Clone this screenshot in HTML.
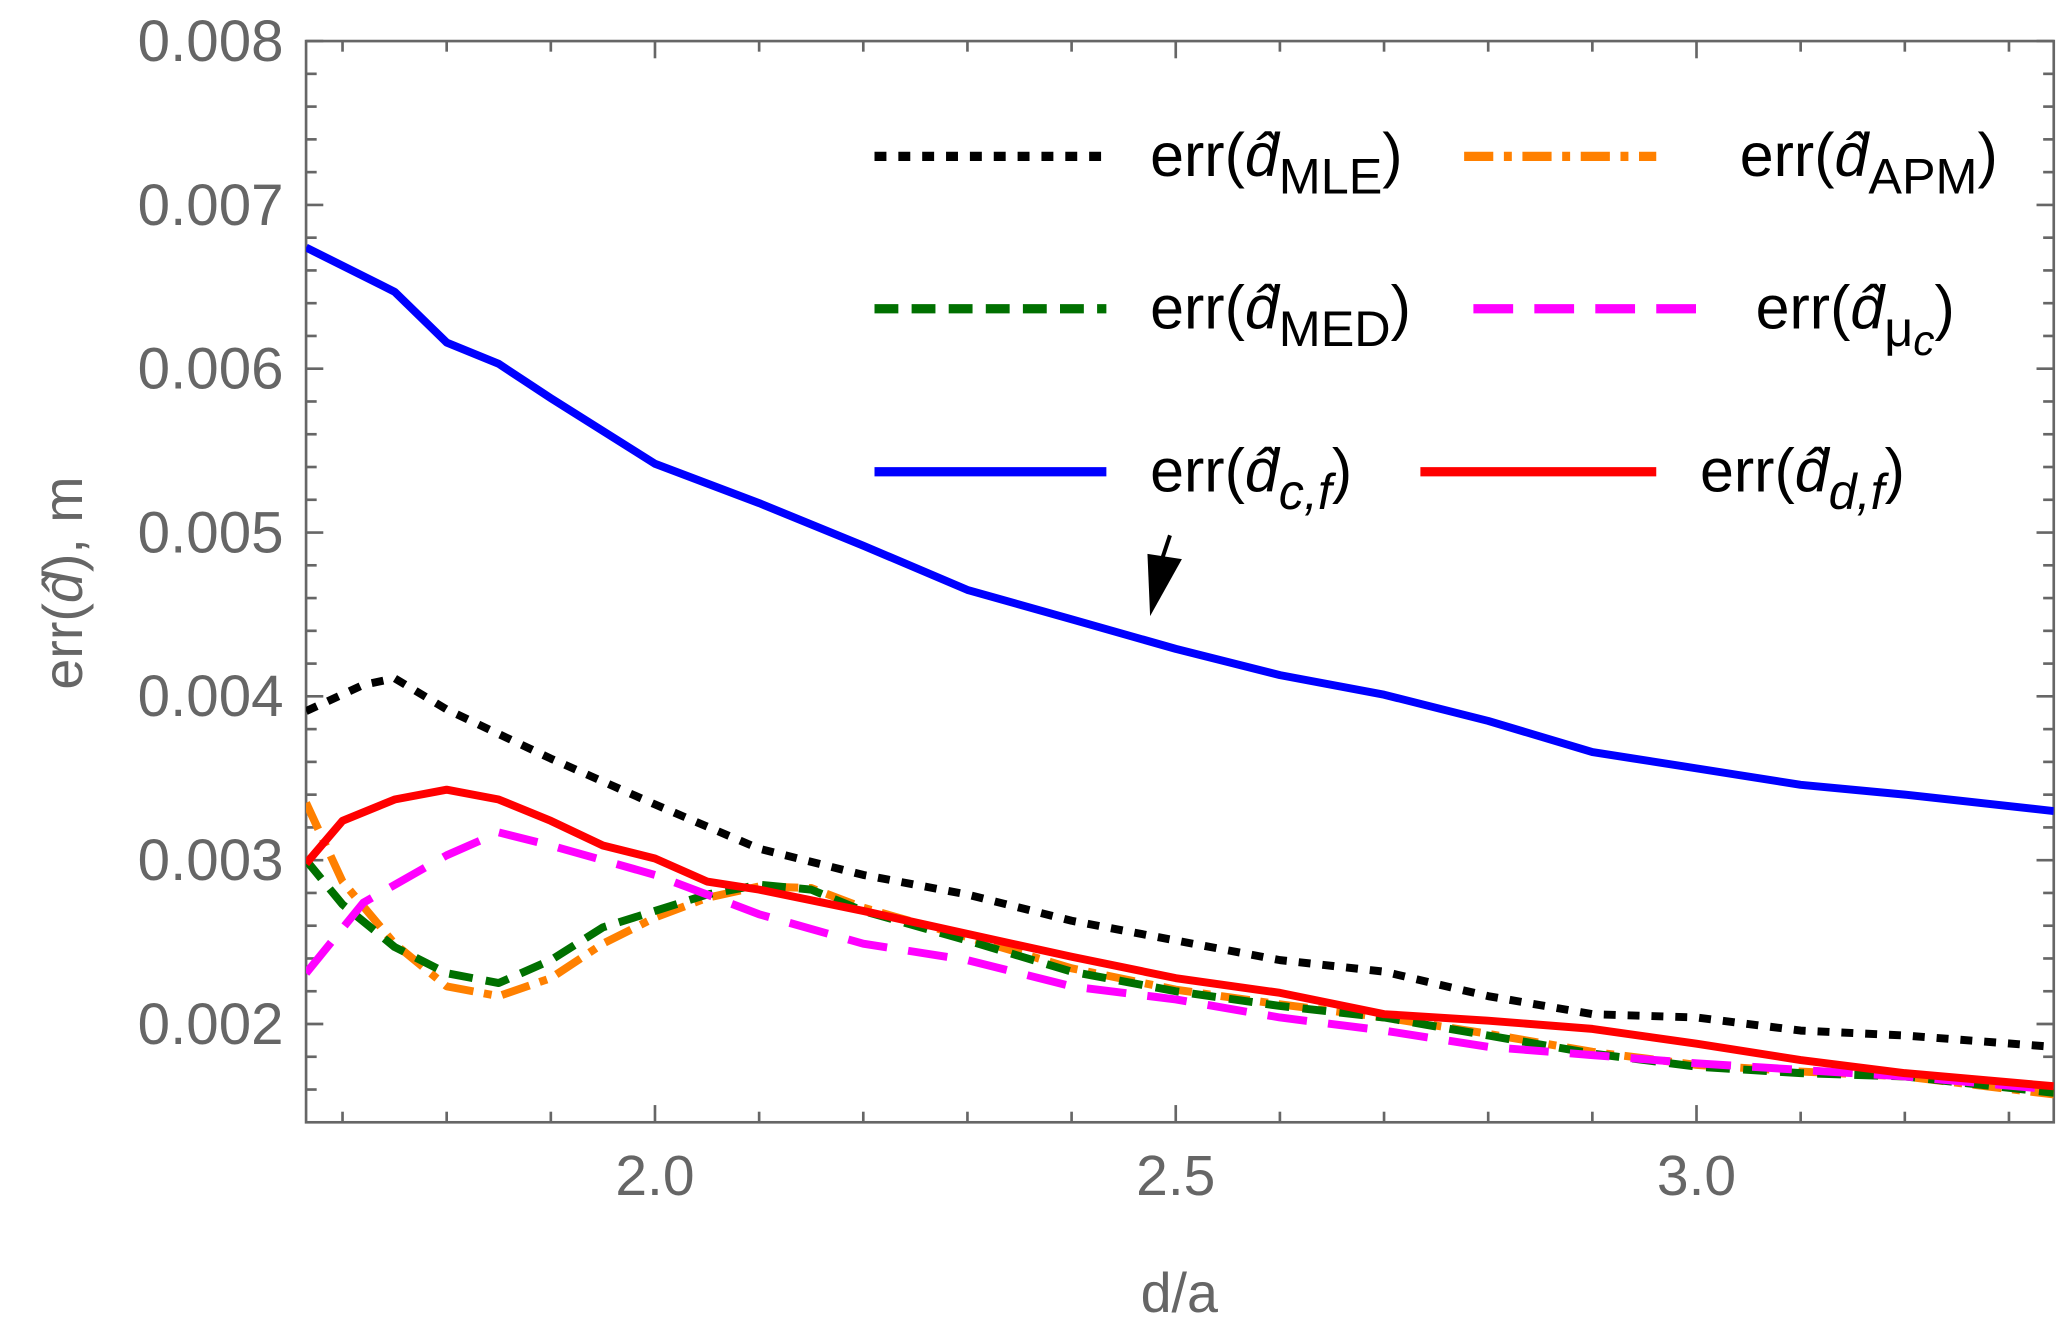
<!DOCTYPE html>
<html><head><meta charset="utf-8"><style>
html,body{margin:0;padding:0;background:#fff;}
svg{display:block;}
text{font-family:"Liberation Sans",sans-serif;}
</style></head><body>
<svg id="chart" width="2067" height="1329" viewBox="0 0 1560 1003" preserveAspectRatio="none" xmlns="http://www.w3.org/2000/svg">
<g id="axes"></g>
<g id="series"></g>
<g id="legend"></g>
<text transform="translate(62,440) rotate(-90)" text-anchor="middle" font-size="42" fill="#666">err(<tspan font-style="italic">d̂</tspan>), m</text>
<text x="890" y="990" text-anchor="middle" font-size="42" fill="#666">d/a</text>
<g>
<line x1="883" y1="404" x2="876" y2="425" stroke="#000" stroke-width="3"/>
<polygon points="868,465 866,418 892,422" fill="#000"/>
</g>
</svg>
<script>
const xTicks=[2.0,2.5,3.0];
const xTickLabels=["2.0","2.5","3.0"];
const yTicks=[0.002,0.003,0.004,0.005,0.006,0.007,0.008];
const yTickLabels=["0.002","0.003","0.004","0.005","0.006","0.007","0.008"];
const xBlue=[1.665,1.75,1.8,1.85,1.9,2.0,2.1,2.2,2.3,2.4,2.5,2.6,2.7,2.8,2.9,3.0,3.1,3.2,3.343];
const yBlue=[0.00674,0.00647,0.00616,0.00603,0.00582,0.00542,0.00518,0.00492,0.00465,0.00447,0.00429,0.00413,0.00401,0.00385,0.00366,0.00356,0.00346,0.0034,0.0033];
const xBlack=[1.665,1.72,1.75,1.8,1.9,2.0,2.1,2.2,2.3,2.4,2.5,2.6,2.7,2.8,2.9,3.0,3.1,3.2,3.343];
const yBlack=[0.00391,0.00407,0.00411,0.00392,0.00362,0.00334,0.00307,0.00291,0.00279,0.00263,0.00251,0.00239,0.00232,0.00217,0.00206,0.00204,0.00196,0.00193,0.00186];
const xRed=[1.665,1.7,1.75,1.8,1.85,1.9,1.95,2.0,2.05,2.1,2.2,2.3,2.4,2.5,2.6,2.7,2.8,2.9,3.0,3.1,3.2,3.343];
const yRed=[0.00298,0.00324,0.00337,0.00343,0.00337,0.00324,0.00309,0.00301,0.00287,0.00282,0.00269,0.00255,0.00241,0.00228,0.00219,0.00206,0.00202,0.00197,0.00188,0.00178,0.0017,0.00162];
const xMag=[1.665,1.72,1.8,1.85,1.9,2.0,2.05,2.1,2.2,2.3,2.4,2.5,2.6,2.7,2.8,2.9,3.0,3.2,3.343];
const yMag=[0.00231,0.00274,0.00303,0.00317,0.00309,0.00291,0.00279,0.00267,0.00249,0.00239,0.00223,0.00215,0.00204,0.00196,0.00186,0.00181,0.00176,0.00168,0.0016];
const xGreen=[1.665,1.7,1.75,1.8,1.85,1.9,1.95,2.0,2.05,2.1,2.15,2.2,2.3,2.4,2.5,2.6,2.7,2.8,2.9,3.0,3.1,3.2,3.343];
const yGreen=[0.003,0.00273,0.00247,0.00231,0.00225,0.00239,0.00259,0.00269,0.00279,0.00285,0.00282,0.00269,0.00251,0.00232,0.0022,0.00211,0.00204,0.00193,0.00182,0.00174,0.0017,0.00168,0.00158];
const xOrange=[1.665,1.7,1.75,1.8,1.85,1.9,1.95,2.0,2.05,2.1,2.15,2.2,2.3,2.4,2.5,2.6,2.7,2.8,2.9,3.0,3.1,3.2,3.343];
const yOrange=[0.00335,0.00287,0.00249,0.00223,0.00217,0.00228,0.00249,0.00265,0.00277,0.00284,0.00283,0.00271,0.00253,0.00234,0.00221,0.00212,0.00204,0.00194,0.00183,0.00175,0.00171,0.00168,0.00157];

const L=231,R=1550,T=31,B=847,XMIN=1.665,XMAX=3.343,YMIN=0.0014,YMAX=0.008;
const NS="http://www.w3.org/2000/svg";
function sx(v){return L+(v-XMIN)/(XMAX-XMIN)*(R-L);}
function sy(v){return B-(v-YMIN)/(YMAX-YMIN)*(B-T);}
function mk(tag,attrs,parent){const e=document.createElementNS(NS,tag);for(const k in attrs)e.setAttribute(k,attrs[k]);parent.appendChild(e);return e;}
const axes=document.getElementById('axes');
const frame=mk('rect',{x:L,y:T,width:R-L,height:B-T,fill:'none',stroke:'#666','stroke-width':2},axes);


for(let i=17;i<=33;i++){const v=i/10;const px=sx(v);if(px<L||px>R)continue;const major=(i%5===0);const len=major?13:8;
 const t1=mk('line',{x1:px,y1:B,x2:px,y2:B-len,stroke:'#666','stroke-width':2},axes);
 
 
 const t2=mk('line',{x1:px,y1:T,x2:px,y2:T+len,stroke:'#666','stroke-width':2},axes);
 
 }
for(let i=15;i<=80;i+=1){if(i%2!==0)continue;const v=i/10000;const py=sy(v);if(py<T-1||py>B)continue;const major=(i%10===0);const len=major?13:8;
 const t1=mk('line',{x1:L,y1:py,x2:L+len,y2:py,stroke:'#666','stroke-width':2},axes);
 
 
 const t2=mk('line',{x1:R,y1:py,x2:R-len,y2:py,stroke:'#666','stroke-width':2},axes);
 
 }
xTicks.forEach((v,i)=>{const t=mk('text',{x:sx(v),y:902,'text-anchor':'middle','font-size':43,fill:'#666'},axes);t.textContent=xTickLabels[i];
 
 });
yTicks.forEach((v,i)=>{const t=mk('text',{x:214,y:sy(v)+15,'text-anchor':'end','font-size':44,fill:'#666'},axes);t.textContent=yTickLabels[i];
 
 });
const ser=document.getElementById('series');
const clip=mk('clipPath',{id:'pc'},ser);mk('rect',{x:L,y:T,width:R-L,height:B-T},clip);
function line(xs,ys,color,dash,name){const d=xs.map((x,i)=>(i?'L':'M')+sx(x).toFixed(1)+','+sy(ys[i]).toFixed(1)).join(' ');
 const p=mk('path',{d:d,fill:'none',stroke:color,'stroke-width':6,'stroke-dasharray':dash,'clip-path':'url(#pc)','stroke-linejoin':'round'},ser);
 
 }
line(xOrange,yOrange,'#ff8000','22 8 6 8','line-apm');
line(xGreen,yGreen,'#007000','18 10','line-med');
line(xMag,yMag,'#ff00ff','30 16','line-mu-c');
line(xBlack,yBlack,'#000','9 9','line-mle');
line(xRed,yRed,'#ff0000','none','line-d-f');
line(xBlue,yBlue,'#0000ff','none','line-c-f');
const lg=document.getElementById('legend');
const entries=[
 [660,835,118,'#000','9 9',868,'MLE',false],
 [1105,1250,118,'#ff8000','22 8 6 8',1313,'APM',false],
 [660,835,233,'#007000','18 10',868,'MED',false],
 [1112,1295,233,'#ff00ff','30 16',1325,'μ',true],
 [660,835,356,'#0000ff','none',868,'c,f',false],
 [1072,1250,356,'#ff0000','none',1283,'d,f',false]];
entries.forEach(e=>{const g=mk('g',{},lg);
 
 
 mk('line',{x1:e[0],y1:e[2],x2:e[1],y2:e[2],stroke:e[3],'stroke-width':7,'stroke-dasharray':e[4]},g);
 const t=mk('text',{x:e[5],y:e[2]+15,'font-size':46,fill:'#000'},g);
 let sub=e[6];
 let html='err(<tspan font-style="italic">d̂</tspan><tspan dy="13" font-size="38"'+(sub.indexOf(',')>=0?' font-style="italic"':'')+'>'+sub+'</tspan>';
 if(e[7])html+='<tspan dy="7" font-size="32" font-style="italic">c</tspan><tspan dy="-20">)</tspan>';
 else html+='<tspan dy="-13">)</tspan>';
 t.innerHTML=html;});
</script>
</body></html>
